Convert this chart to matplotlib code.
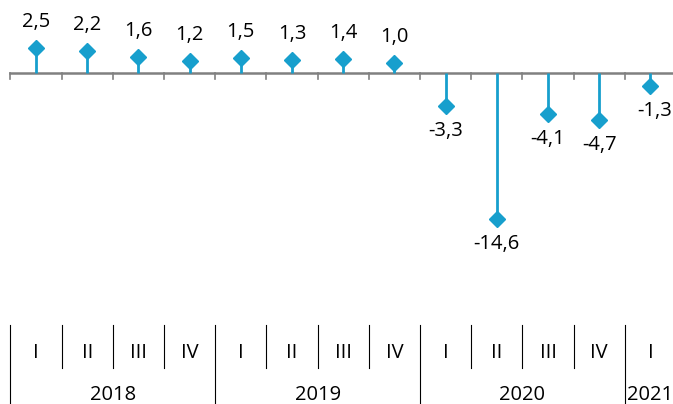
import matplotlib.pyplot as plt

plt.rcParams['font.family'] = ['Open Sans', 'DejaVu Sans']

# quarterly change, %
quarters = ['I', 'II', 'III', 'IV', 'I', 'II', 'III', 'IV', 'I', 'II', 'III', 'IV', 'I']
years = ['2018', '2019', '2020', '2021']
year_len = [4, 4, 4, 1]
values = [2.5, 2.2, 1.6, 1.2, 1.5, 1.3, 1.4, 1.0, -3.3, -14.6, -4.1, -4.7, -1.3]

blue = '#179fcd'
grey = '#808080'
fs = 14.5

fig = plt.figure(figsize=(6.73, 4.04), dpi=100)
ax = fig.add_axes([0, 0, 1, 1])
ax.set_xlim(-0.703, 12.44)
ax.set_ylim(-33.1, 7.3)
ax.axis('off')

x = list(range(len(values)))
n = len(values)

# zero line and ticks
ax.plot([-0.5, n - 0.5], [0, 0], color=grey, lw=1.8, zorder=1)
for i in range(n + 1):
    ax.plot([i - 0.5, i - 0.5], [0, -0.6], color=grey, lw=1.2, zorder=1)

# stems + markers
ax.vlines(x, 0, values, color=blue, lw=2, zorder=2)
ax.plot(x, values, 'D', color=blue, ms=8, zorder=3)

for xi, v in zip(x, values):
    txt = f'{v:.1f}'.replace('.', ',')
    if v >= 0:
        ax.text(xi, v + 2.6, txt, ha='center', va='center', fontsize=fs)
    else:
        dx = 0.08 if xi == n - 1 else 0
        ax.text(xi + dx, v - 2.5, txt, ha='center', va='center', fontsize=fs)

# category axis
for xi, q in zip(x, quarters):
    ax.text(xi, -28.0, q, ha='center', va='center', fontsize=fs)

start = 0
year_bounds = []
for y, l in zip(years, year_len):
    ax.text(start + (l - 1) / 2, -32.2, y, ha='center', va='center', fontsize=fs)
    year_bounds.append(start - 0.5)
    start += l
year_bounds.append(start - 0.5)

for i in range(n + 1):
    b = i - 0.5
    if b in year_bounds:
        ax.plot([b, b], [-25.2, -33.1], color='black', lw=0.8)
    else:
        ax.plot([b, b], [-25.2, -29.5], color='black', lw=0.8)

fig.savefig('out.png', dpi=100)
